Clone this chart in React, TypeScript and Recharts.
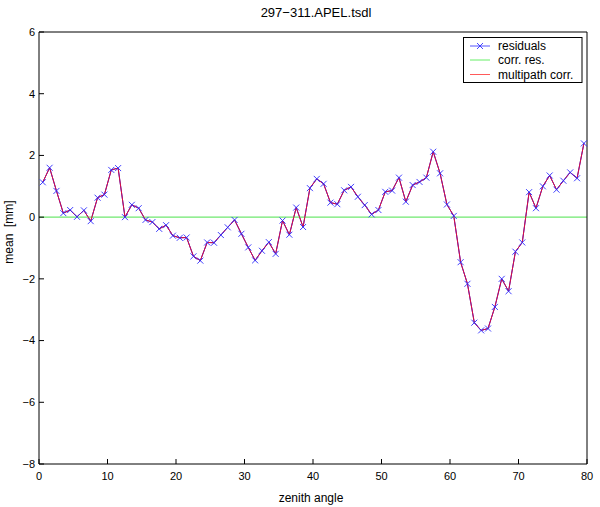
import { Line, LineChart, ReferenceLine, XAxis, YAxis } from 'recharts'

// mean residual per 1° zenith-angle bin
const residuals = [
  1.13, 1.6, 0.85, 0.13, 0.23, 0.01, 0.22, -0.13, 0.63, 0.73,
  1.53, 1.59, 0.0, 0.4, 0.29, -0.09, -0.16, -0.38, -0.26, -0.6,
  -0.67, -0.66, -1.27, -1.41, -0.82, -0.83, -0.58, -0.33, -0.09, -0.54,
  -0.98, -1.4, -1.09, -0.81, -1.19, -0.11, -0.57, 0.31, -0.32, 0.94,
  1.24, 1.08, 0.47, 0.42, 0.87, 0.98, 0.66, 0.39, 0.09, 0.23,
  0.82, 0.86, 1.28, 0.5, 1.04, 1.14, 1.28, 2.12, 1.42, 0.41,
  0.04, -1.46, -2.16, -3.42, -3.67, -3.61, -2.91, -2.0, -2.4, -1.12,
  -0.82, 0.81, 0.29, 1.0, 1.35, 0.89, 1.18, 1.45, 1.26, 2.39,
]
// the multipath correction sits right on top of the residuals
const multipathCorr = residuals
// corrected residuals are flat at zero
const corrResLevel = 0

const xTicks = [0, 10, 20, 30, 40, 50, 60, 70, 80]
const yTicks = [-8, -6, -4, -2, 0, 2, 4, 6]

const data = residuals.map((r, i) => ({
  zenith: i + 0.55,
  residuals: r,
  multipath: multipathCorr[i],
}))

const FONT = '"Liberation Sans", Arial, Helvetica, sans-serif'
const fmt = (v: number) => String(v).replace('-', '\u2212')

function XDot(props: any) {
  const { cx, cy, index } = props
  if (cx == null || cy == null) return null
  const s = 3
  return (
    <g key={`x-${index}`}>
      <line x1={cx - s} y1={cy - s} x2={cx + s} y2={cy + s} stroke="#2a2aff" strokeWidth={0.9} />
      <line x1={cx - s} y1={cy + s} x2={cx + s} y2={cy - s} stroke="#2a2aff" strokeWidth={0.9} />
    </g>
  )
}

const tickStyle = { fill: '#000', fontSize: 11, fontFamily: FONT }

export default function App() {
  return (
    <div style={{ position: 'absolute', left: 0, top: 0, width: 600, height: 507, background: '#fff', fontFamily: FONT }}>
      <LineChart width={600} height={507} data={data} margin={{ top: 22, right: 3, bottom: 23, left: 9 }}>
        <XAxis
          xAxisId="b"
          dataKey="zenith"
          type="number"
          domain={[0, 80]}
          ticks={xTicks}
          height={20}
          tickSize={-5}
          tickMargin={13}
          tick={tickStyle}
          stroke="#000"
        />
        <XAxis
          xAxisId="t"
          orientation="top"
          dataKey="zenith"
          type="number"
          domain={[0, 80]}
          ticks={xTicks}
          height={10}
          tickSize={-5}
          tick={false}
          stroke="#000"
        />
        <YAxis
          yAxisId="l"
          type="number"
          domain={[-8, 6]}
          ticks={yTicks}
          width={30}
          tickSize={-5}
          tickMargin={9}
          tick={tickStyle}
          tickFormatter={fmt}
          stroke="#000"
        />
        <YAxis
          yAxisId="r"
          orientation="right"
          type="number"
          domain={[-8, 6]}
          ticks={yTicks}
          width={10}
          tickSize={-5}
          tick={false}
          stroke="#000"
        />
        <Line
          xAxisId="b"
          yAxisId="l"
          dataKey="residuals"
          stroke="#0000ff"
          strokeWidth={1}
          dot={XDot}
          activeDot={false}
          isAnimationActive={false}
        />
        <ReferenceLine xAxisId="b" yAxisId="l" y={corrResLevel} stroke="#6fe86f" strokeWidth={1.2} />
        <Line
          xAxisId="b"
          yAxisId="l"
          dataKey="multipath"
          stroke="#e0103a"
          strokeWidth={1}
          dot={false}
          activeDot={false}
          isAnimationActive={false}
        />
      </LineChart>
      <svg width={600} height={507} style={{ position: 'absolute', left: 0, top: 0, pointerEvents: 'none' }} fontFamily={FONT}>
        <text x={316} y={17} textAnchor="middle" fontSize={13} fill="#000">
          297{'\u2212'}311.APEL.tsdl
        </text>
        <text x={311} y={502} textAnchor="middle" fontSize={12} fill="#000">
          zenith angle
        </text>
        <text
          x={0}
          y={0}
          transform="translate(13 232) rotate(-90)"
          textAnchor="middle"
          fontSize={12}
          fill="#000"
          style={{ whiteSpace: 'pre' }}
        >
          mean  [mm]
        </text>
        <g>
          <rect x={463.5} y={37.5} width={118.5} height={45} fill="#fff" stroke="#000" strokeWidth={1} />
          <line x1={470} y1={46} x2={490} y2={46} stroke="#5555ff" />
          <line x1={477} y1={43} x2={483} y2={49} stroke="#3333ff" strokeWidth={0.9} />
          <line x1={477} y1={49} x2={483} y2={43} stroke="#3333ff" strokeWidth={0.9} />
          <text x={498} y={50} fontSize={12} fill="#000">residuals</text>
          <line x1={470} y1={60} x2={490} y2={60} stroke="#66ee66" />
          <text x={498} y={64} fontSize={12} fill="#000">corr. res.</text>
          <line x1={470} y1={74.5} x2={490} y2={74.5} stroke="#ff5a5a" />
          <text x={498} y={78.5} fontSize={12} fill="#000">multipath corr.</text>
        </g>
      </svg>
    </div>
  )
}
